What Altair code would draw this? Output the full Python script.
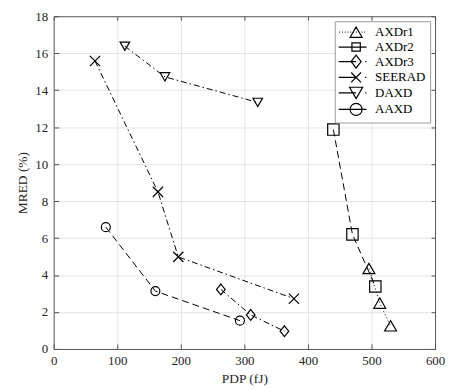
import altair as alt
import pandas as pd

# ---------------- data ----------------
series_names = ["AXDr1", "AXDr2", "AXDr3", "SEERAD", "DAXD", "AAXD"]

axdr1_pdp = [496, 513, 530]
axdr1_mred = [4.35, 2.48, 1.25]
axdr2_pdp = [440, 470, 506]
axdr2_mred = [11.87, 6.2, 3.38]
axdr3_pdp = [263, 310, 363]
axdr3_mred = [3.22, 1.84, 0.96]
seerad_pdp = [65, 164, 196, 378]
seerad_mred = [15.58, 8.5, 4.98, 2.72]
daxd_pdp = [112, 175, 321]
daxd_mred = [16.38, 14.72, 13.34]
aaxd_pdp = [82, 160, 293]
aaxd_mred = [6.59, 3.13, 1.53]

x_ticks = [0, 100, 200, 300, 400, 500, 600]
y_ticks = [0, 2, 4, 6, 8, 10, 12, 14, 16, 18]

pdp_lists = [axdr1_pdp, axdr2_pdp, axdr3_pdp, seerad_pdp, daxd_pdp, aaxd_pdp]
mred_lists = [axdr1_mred, axdr2_mred, axdr3_mred, seerad_mred, daxd_mred, aaxd_mred]

rows = []
for name, xs, ys in zip(series_names, pdp_lists, mred_lists):
    for i, (xv, yv) in enumerate(zip(xs, ys)):
        rows.append({"series": name, "pdp": xv, "mred": yv, "idx": i})
df = pd.DataFrame(rows)

# ---------------- styles ----------------
FONT = "Liberation Serif, Times New Roman, serif"
AX = "#555555"
W, H = 384, 335

dash_dot = [6, 3, 1.5, 3]
dashes = [[1, 2.5], [7, 4], dash_dot, dash_dot, dash_dot, [7, 4]]

X_PATH = "M-1,-1L1,1M-1,1L1,-1"
DIAMOND_PATH = "M0,-1L0.8,0L0,1L-0.8,0Z"
point_shapes = ["triangle-up", "square", DIAMOND_PATH, X_PATH, "triangle-down", "circle"]
point_sizes = [144, 81, 196, 90, 196, 160]


# legend symbols: line sample + marker, in units of r = 6 px
def seg(a, b):
    return f"M{a:.2f},0L{b:.2f},0"


L0, L1, C = -1.17, 3.5, 1.75


def dotted():
    out = ""
    v = L0 + 0.08
    while v < L1:
        out += seg(v, v + 0.13)
        v += 0.47
    return out


def tri_up(c, s):
    h = 0.866 * s
    return f"M{c:.2f},{-h:.2f}L{c + s:.2f},{h:.2f}L{c - s:.2f},{h:.2f}Z"


def tri_down(c, s):
    h = 0.866 * s
    return f"M{c:.2f},{h:.2f}L{c + s:.2f},{-h:.2f}L{c - s:.2f},{-h:.2f}Z"


def square(c, s):
    return f"M{c - s:.2f},{-s:.2f}L{c + s:.2f},{-s:.2f}L{c + s:.2f},{s:.2f}L{c - s:.2f},{s:.2f}Z"


def diamond(c, sx, sy):
    return f"M{c:.2f},{-sy:.2f}L{c + sx:.2f},0L{c:.2f},{sy:.2f}L{c - sx:.2f},0Z"


def xmark(c, s):
    return f"M{c - s:.2f},{-s:.2f}L{c + s:.2f},{s:.2f}M{c - s:.2f},{s:.2f}L{c + s:.2f},{-s:.2f}"


def circ(c, rr):
    return (f"M{c + rr:.2f},0A{rr},{rr} 0 1,1 {c - rr:.2f},0"
            f"A{rr},{rr} 0 1,1 {c + rr:.2f},0")


dd_tail = seg(3.27, 3.47)
legend_shapes = [
    dotted() + tri_up(C, 1.0),
    seg(L0, L1) + square(C, 0.7),
    seg(L0, C) + dd_tail + diamond(C, 0.84, 1.07),
    seg(L0, C) + dd_tail + xmark(C, 0.82),
    seg(L0, C) + dd_tail + tri_down(C, 1.1),
    seg(L0, L1) + circ(C, 1.0),
]

xscale = alt.Scale(domain=[0, 600], nice=False, zero=False)
yscale = alt.Scale(domain=[0, 18], nice=False, zero=False)

common_lbl = dict(labelFont=FONT, labelFontSize=13, labelColor="#262626",
                  titleFont=FONT, titleFontSize=13.5, titleFontWeight="normal",
                  titleColor="#262626")

# axes
x_grid = alt.Axis(orient="bottom", values=x_ticks[1:-1], grid=True, gridColor="#e4e4e4",
                  labels=False, ticks=False, domain=False, title=None, zindex=0)
y_grid = alt.Axis(orient="left", values=y_ticks[1:-1], grid=True, gridColor="#e4e4e4",
                  labels=False, ticks=False, domain=False, title=None, zindex=0)

x_main = alt.Axis(orient="bottom", values=x_ticks, grid=False, ticks=False, tickSize=0,
                  domain=True, domainColor=AX, labelPadding=6, labelFlush=False,
                  labelOverlap=False, title="PDP (fJ)", titlePadding=4, zindex=1,
                  format="d", **common_lbl)
y_main = alt.Axis(orient="left", values=y_ticks, grid=False, ticks=False, tickSize=0,
                  domain=True, domainColor=AX, labelPadding=6, labelFlush=False,
                  labelOverlap=False, title="MRED (%)", titlePadding=5, zindex=1,
                  format="d", **common_lbl)

x_in_bottom = alt.Axis(orient="top", offset=-H, values=x_ticks, grid=False, labels=False,
                       domain=False, ticks=True, tickSize=5, tickColor=AX, title=None, zindex=1)
y_in_left = alt.Axis(orient="right", offset=-W, values=y_ticks, grid=False, labels=False,
                     domain=False, ticks=True, tickSize=5, tickColor=AX, title=None, zindex=1)
x_in_top = alt.Axis(orient="bottom", offset=-H, values=x_ticks, grid=False, labels=False,
                    domain=True, domainColor=AX, ticks=True, tickSize=4, tickColor=AX,
                    title=None, zindex=1)
y_in_right = alt.Axis(orient="left", offset=-W, values=y_ticks, grid=False, labels=False,
                      domain=True, domainColor=AX, ticks=True, tickSize=4, tickColor=AX,
                      title=None, zindex=1)

base = alt.Chart(df)

lines = base.mark_line(color="black", strokeWidth=1).encode(
    x=alt.X("pdp:Q", scale=xscale, axis=x_grid),
    y=alt.Y("mred:Q", scale=yscale, axis=y_grid),
    strokeDash=alt.StrokeDash("series:N", scale=alt.Scale(domain=series_names, range=dashes),
                              legend=None),
    order="idx:O",
)

points = base.mark_point(filled=False, color="black", strokeWidth=1.2, opacity=1).encode(
    x=alt.X("pdp:Q", scale=xscale, axis=x_main),
    y=alt.Y("mred:Q", scale=yscale, axis=y_main),
    shape=alt.Shape("series:N", scale=alt.Scale(domain=series_names, range=point_shapes),
                    legend=None),
    size=alt.Size("series:N", scale=alt.Scale(domain=series_names, range=point_sizes),
                  legend=None),
)

legend_layer = base.mark_point(filled=False, color="black", strokeWidth=1.2, opacity=0).encode(
    x=alt.X("pdp:Q", scale=xscale, axis=x_in_bottom),
    y=alt.Y("mred:Q", scale=yscale, axis=y_in_left),
    shape=alt.Shape(
        "series:N",
        scale=alt.Scale(domain=series_names, range=legend_shapes),
        legend=alt.Legend(
            title=None, orient="top-right", offset=5, padding=4,
            strokeColor="#9a9a9a", fillColor="white",
            symbolSize=144, symbolStrokeWidth=1.2, symbolOpacity=1,
            symbolStrokeColor="black", symbolFillColor="transparent",
            labelFont=FONT, labelFontSize=13, labelColor="black",
            labelOffset=22.6, rowPadding=-1.4, labelLimit=200,
        ),
    ),
)

frame_layer = base.mark_point(opacity=0).encode(
    x=alt.X("pdp:Q", scale=xscale, axis=x_in_top),
    y=alt.Y("mred:Q", scale=yscale, axis=y_in_right),
)

chart = (
    alt.layer(lines, points, legend_layer, frame_layer)
    .resolve_axis(x="independent", y="independent")
    .resolve_scale(shape="independent")
    .properties(
        width=W, height=H,
        autosize=alt.AutoSizeParams(type="none"),
        padding={"left": 46, "top": 7, "right": 10, "bottom": 38},
        background="white",
    )
    .configure_view(stroke=None)
)

chart.save("out.html", embed_options={"renderer": "svg", "actions": False})
